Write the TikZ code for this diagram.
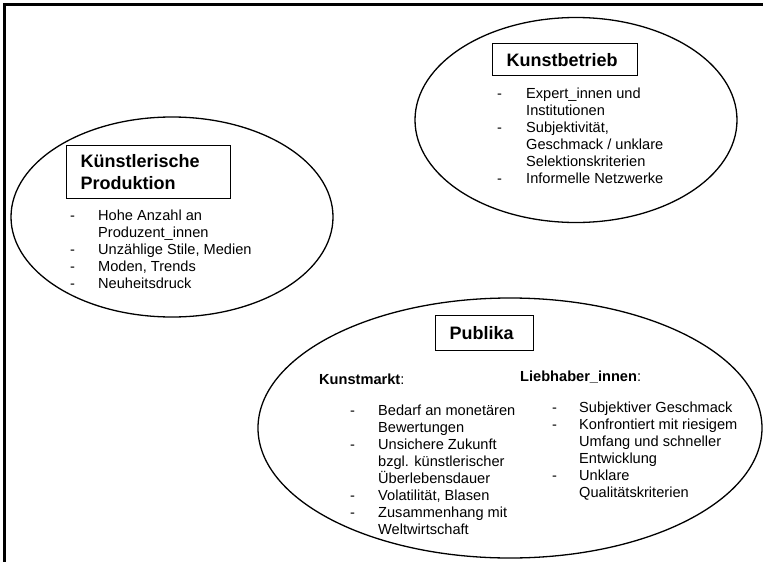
\documentclass[tikz,border=0pt]{standalone}
\usepackage{fontspec}
\setmainfont{Liberation Sans}
\usetikzlibrary{positioning, shapes.geometric}

\newcommand{\bodyfont}{\fontsize{14.6}{17}\selectfont}

\begin{document}
\begin{tikzpicture}[
    x=1pt, y=-1pt,
    area/.style={ellipse, draw, line width=1.3pt, inner sep=0pt},
    titlebox/.style={rectangle, draw, line width=1.4pt, inner xsep=14pt, inner ysep=0pt, align=left, anchor=north west, font=\fontsize{18}{21.5}\selectfont\bfseries},
    itemlist/.style={inner sep=0pt, anchor=base west, font=\bodyfont},
    heading/.style={inner sep=0pt, anchor=base west, font=\bodyfont}
]
\useasboundingbox (0,0) rectangle (763,562);

% Frame
\draw[line width=2.5pt] (4.5,562) -- (4.5,4.5) -- (763,4.5);

% Areas
\node[area, minimum width=322, minimum height=200] (prod) at (172,217) {};
\node[area, minimum width=322, minimum height=205] (betrieb) at (576,120) {};
\node[area, minimum width=504, minimum height=260] (publika) at (510,428) {};

% Titles
\node[titlebox, text width=136, minimum height=53] (prodtitle) at (66,145) {Künstlerische\\Produktion};
\node[titlebox, text width=117, minimum height=32] (betriebtitle) at (492,43) {Kunstbetrieb};
\node[titlebox, text width=70, minimum height=35] (publikatitle) at (435,315) {Publika};

% Lists
\node[itemlist] (prodlist) at (70,220) {\begin{tabular}[t]{@{}p{28pt}@{}l@{}}
- & Hohe Anzahl an\\
  & Produzent\_innen\\
- & Unzählige Stile, Medien\\
- & Moden, Trends\\
- & Neuheitsdruck
\end{tabular}};
\node[itemlist] (betrieblist) at (497,98.5) {\begin{tabular}[t]{@{}p{29pt}@{}l@{}}
- & Expert\_innen und\\
  & Institutionen\\
- & Subjektivität,\\
  & Geschmack / unklare\\
  & Selektionskriterien\\
- & Informelle Netzwerke
\end{tabular}};

% Publika
\node[heading] (markt) at (319,384) {\textbf{Kunstmarkt}:};
\node[heading] (liebhaber) at (520,381) {\textbf{Liebhaber\_innen}:};
\node[itemlist] (marktlist) at (350,415) {\begin{tabular}[t]{@{}p{28pt}@{}l@{}}
- & Bedarf an monetären\\
  & Bewertungen\\
- & Unsichere Zukunft\\
  & bzgl. künstlerischer\\
  & Überlebensdauer\\
- & Volatilität, Blasen\\
- & Zusammenhang mit\\
  & Weltwirtschaft
\end{tabular}};
\node[itemlist] (liebhaberlist) at (552,412) {\begin{tabular}[t]{@{}p{27pt}@{}l@{}}
- & Subjektiver Geschmack\\
- & Konfrontiert mit riesigem\\
  & Umfang und schneller\\
  & Entwicklung\\
- & Unklare\\
  & Qualitätskriterien
\end{tabular}};

\end{tikzpicture}
\end{document}
